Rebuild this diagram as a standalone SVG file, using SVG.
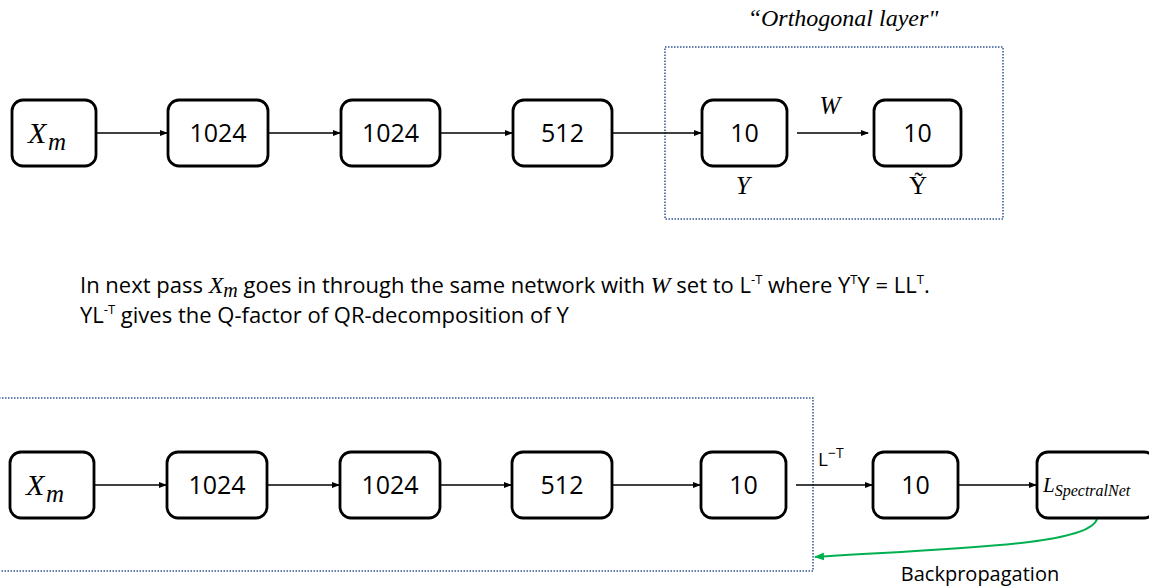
<svg xmlns="http://www.w3.org/2000/svg" width="1149" height="586" viewBox="0 0 1149 586">
<style>
.box{fill:#fff;stroke:#000;stroke-width:2.8}
.num{font-family:"Open Sans","Liberation Sans",sans-serif;font-size:25px;fill:#000;text-anchor:middle}
.math{font-family:"Liberation Serif",serif;font-style:italic;fill:#000}
.txt{font-family:"Open Sans","Liberation Sans",sans-serif;fill:#000}
.edge{stroke:#000;stroke-width:1.5;fill:none}
.dot{fill:none;stroke:#2F5597;stroke-width:1.5;stroke-dasharray:1.5 1.5}
</style>
<defs>
<marker id="ah" markerWidth="8" markerHeight="8" refX="7" refY="4" orient="auto" markerUnits="userSpaceOnUse">
<path d="M0,1 L8,4 L0,7 z" fill="#000"/>
</marker>
<marker id="ahg" markerWidth="10" markerHeight="10" refX="9" refY="5" orient="auto" markerUnits="userSpaceOnUse">
<path d="M0,1 L10,5 L0,9 z" fill="#00B050"/>
</marker>
</defs>

<text x="843" y="26" class="math" font-size="24" text-anchor="middle">“Orthogonal layer"</text>
<rect class="dot" x="665" y="47" width="338" height="172"/>
<rect class="dot" x="-10" y="398" width="823" height="173"/>

<g id="connectors">
<line class="edge" x1="97" y1="133" x2="167" y2="133" marker-end="url(#ah)"/>
<line class="edge" x1="269" y1="133" x2="340" y2="133" marker-end="url(#ah)"/>
<line class="edge" x1="441" y1="133" x2="512" y2="133" marker-end="url(#ah)"/>
<line class="edge" x1="613" y1="133" x2="701" y2="133" marker-end="url(#ah)"/>
<line class="edge" x1="797" y1="133" x2="868" y2="133" marker-end="url(#ah)"/>
<line class="edge" x1="95" y1="485" x2="166" y2="485" marker-end="url(#ah)"/>
<line class="edge" x1="268" y1="485" x2="339" y2="485" marker-end="url(#ah)"/>
<line class="edge" x1="441" y1="485" x2="511" y2="485" marker-end="url(#ah)"/>
<line class="edge" x1="613" y1="485" x2="700" y2="485" marker-end="url(#ah)"/>
<line class="edge" x1="796" y1="485" x2="872" y2="485" marker-end="url(#ah)"/>
<line class="edge" x1="959" y1="485" x2="1036" y2="485" marker-end="url(#ah)"/>
<path d="M1097,519 C1090,545 960,548 815,557" fill="none" stroke="#00B050" stroke-width="2" marker-end="url(#ahg)"/>
</g>

<g id="n-xm-top"><rect class="box" x="12" y="100" width="84" height="66" rx="11"/><text x="28" y="143" class="math" font-size="30">X</text><text x="48" y="150" class="math" font-size="25">m</text></g>
<g id="n-1024a-top"><rect class="box" x="168" y="100" width="100" height="66" rx="11"/><text x="218" y="142" class="num">1024</text></g>
<g id="n-1024b-top"><rect class="box" x="341" y="100" width="99" height="66" rx="11"/><text x="390.5" y="142" class="num">1024</text></g>
<g id="n-512-top"><rect class="box" x="513" y="100" width="99" height="66" rx="11"/><text x="562.5" y="142" class="num">512</text></g>
<g id="n-10a-top"><rect class="box" x="702" y="100" width="85" height="66" rx="11"/><text x="744.5" y="142" class="num">10</text></g>
<g id="n-10b-top"><rect class="box" x="874" y="100" width="87" height="66" rx="11"/><text x="917.5" y="142" class="num">10</text></g>
<text x="830" y="114" class="math" font-size="25" text-anchor="middle">W</text>
<text x="743" y="194" class="math" font-size="25" text-anchor="middle">Y</text>
<text x="918" y="194" font-family="Liberation Serif,serif" font-size="25" text-anchor="middle">Ỹ</text>

<text x="80" y="293" class="txt" font-size="22">In next pass <tspan class="math" font-size="24">X</tspan><tspan class="math" font-size="20" dy="4">m</tspan><tspan dy="-4"> goes in through the same network with </tspan><tspan class="math" font-size="24">W</tspan> set to L<tspan font-size="13" dy="-9">-T</tspan><tspan dy="9"> where Y</tspan><tspan font-size="13" dy="-9">T</tspan><tspan dy="9">Y = LL</tspan><tspan font-size="13" dy="-9">T</tspan><tspan dy="9">.</tspan></text>
<text x="80" y="323" class="txt" font-size="22">YL<tspan font-size="13" dy="-9">-T</tspan><tspan dy="9"> gives the Q-factor of QR-decomposition of Y</tspan></text>

<g id="n-xm-bot"><rect class="box" x="10" y="452" width="84" height="66" rx="11"/><text x="26" y="495" class="math" font-size="30">X</text><text x="46" y="502" class="math" font-size="25">m</text></g>
<g id="n-1024a-bot"><rect class="box" x="167" y="452" width="100" height="66" rx="11"/><text x="217" y="494" class="num">1024</text></g>
<g id="n-1024b-bot"><rect class="box" x="340" y="452" width="100" height="66" rx="11"/><text x="390" y="494" class="num">1024</text></g>
<g id="n-512-bot"><rect class="box" x="512" y="452" width="100" height="66" rx="11"/><text x="562" y="494" class="num">512</text></g>
<g id="n-10a-bot"><rect class="box" x="701" y="452" width="85" height="66" rx="11"/><text x="743.5" y="494" class="num">10</text></g>
<g id="n-10b-bot"><rect class="box" x="873" y="452" width="85" height="66" rx="11"/><text x="915.5" y="494" class="num">10</text></g>
<g id="n-loss"><rect class="box" x="1037" y="452" width="118" height="66" rx="11"/><text x="1043" y="492" class="math" font-size="21">L<tspan font-size="16" dy="4">SpectralNet</tspan></text></g>
<text x="818" y="466" class="txt" font-size="19">L<tspan font-size="14" dy="-8">−T</tspan></text>
<text x="980" y="581" class="txt" font-size="20" text-anchor="middle">Backpropagation</text>
</svg>
